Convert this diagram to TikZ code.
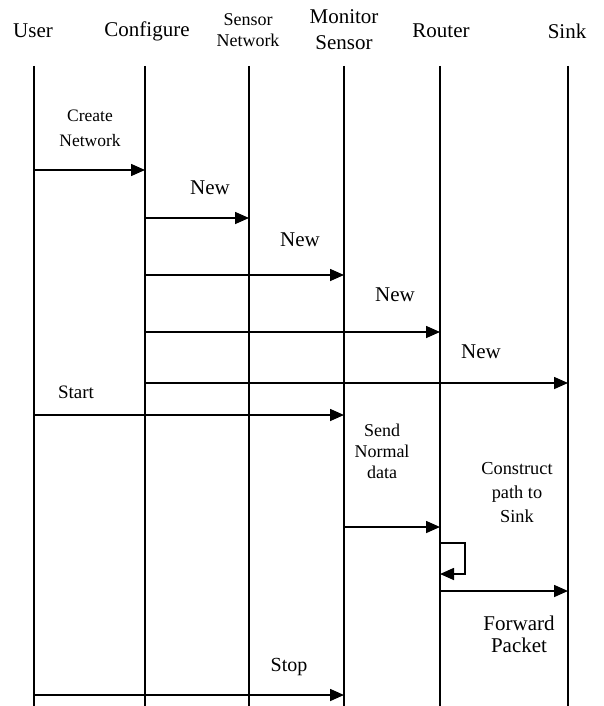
\documentclass[tikz,border=0pt]{standalone}
\usepackage{fontspec}
\setmainfont{Liberation Serif}
\usetikzlibrary{arrows.meta}
\tikzset{
  life/.style={line width=1.8pt},
  msg/.style={line width=1.6pt,-{Triangle[length=14pt,width=12pt]}},
  lbl/.style={font=\fontsize{21}{26}\selectfont,align=center,inner sep=0pt},
  mlbl/.style={font=\fontsize{18}{21}\selectfont,align=center,inner sep=0pt}
}
\begin{document}
\begin{tikzpicture}[x=1pt,y=-1pt]
\useasboundingbox (0,0) rectangle (603,706);
% headers
\node[lbl] (hU) at (33,31) {User};
\node[lbl] (hC) at (147,31) {Configure};
\node[mlbl] (hS) at (248,30) {Sensor\\Network};
\node[lbl] (hM) at (344,30) {Monitor\\Sensor};
\node[lbl] (hR) at (441,31) {Router};
\node[lbl] (hK) at (567,31) {Sink};
% lifelines
\foreach \n/\x in {U/34,C/145,S/249,M/344,R/440,K/568}{
  \coordinate (t\n) at (\x,66);
  \coordinate (b\n) at (\x,706);
  \draw[life] (t\n) -- (b\n);
}
% messages
\coordinate (u1) at (34,170); \coordinate (c1) at (145,170);
\draw[msg] (u1) -- (c1);
\node[mlbl,font=\fontsize{17.5}{25}\selectfont] (l1) at (90,128) {Create\\Network};
\coordinate (c2) at (145,218); \coordinate (s2) at (249,218);
\draw[msg] (c2) -- (s2);
\node[lbl] (l2) at (210,188) {New};
\coordinate (c3) at (145,275); \coordinate (m3) at (344,275);
\draw[msg] (c3) -- (m3);
\node[lbl] (l3) at (300,240) {New};
\coordinate (c4) at (145,332); \coordinate (r4) at (440,332);
\draw[msg] (c4) -- (r4);
\node[lbl] (l4) at (395,295) {New};
\coordinate (c5) at (145,383); \coordinate (k5) at (568,383);
\draw[msg] (c5) -- (k5);
\node[lbl] (l5) at (481,352) {New};
\coordinate (u6) at (34,415); \coordinate (m6) at (344,415);
\draw[msg] (u6) -- (m6);
\node[mlbl,font=\fontsize{19}{21}\selectfont] (l6) at (76,392) {Start};
\coordinate (m7) at (344,527); \coordinate (r7) at (440,527);
\draw[msg] (m7) -- (r7);
\node[mlbl] (l7) at (382,451) {Send\\Normal\\data};
\coordinate (r8a) at (440,543); \coordinate (r8b) at (440,574);
\draw[msg] (r8a) -- (465,543) -- (465,574) -- (r8b);
\node[mlbl,font=\fontsize{18.3}{24}\selectfont] (l8) at (517,493) {Construct\\path to\\Sink};
\coordinate (r9) at (440,591); \coordinate (k9) at (568,591);
\draw[msg] (r9) -- (k9);
\node[lbl,font=\fontsize{21}{22}\selectfont] (l9) at (519,634) {Forward\\Packet};
\coordinate (u10) at (34,695); \coordinate (m10) at (344,695);
\draw[msg] (u10) -- (m10);
\node[lbl,font=\fontsize{20}{22}\selectfont] (l10) at (289,667) {Stop};
\end{tikzpicture}
\end{document}
